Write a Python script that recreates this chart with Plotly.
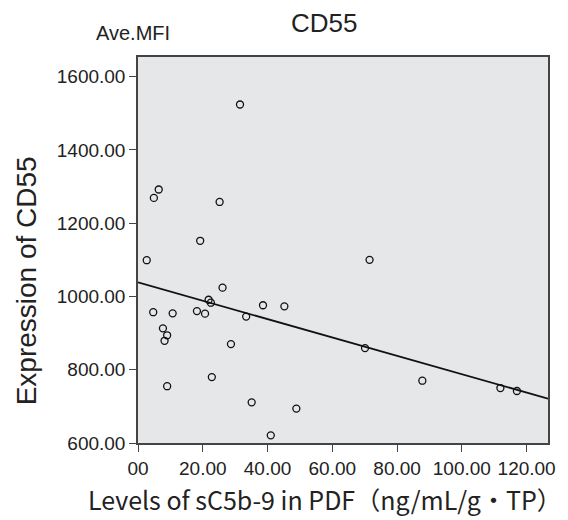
import numpy as np
import plotly.graph_objects as go

# Data
sc5b9 = [31.5, 6.4, 4.9, 25.2, 19.2, 2.7, 26.1, 21.8, 22.5, 38.6,
         45.2, 4.7, 10.7, 18.2, 20.7, 33.4, 7.7, 9.0, 8.2, 28.7,
         22.8, 9.0, 35.1, 48.9, 41.0, 71.5, 70.1, 87.8, 111.9, 117.0]
cd55 = [1524, 1292, 1269, 1258, 1152, 1099, 1024, 991, 983, 976,
        973, 957, 954, 960, 953, 945, 913, 894, 879, 870,
        780, 755, 711, 694, 621, 1100, 859, 770, 750, 742]

x_tickvals = [0, 20, 40, 60, 80, 100, 120]
x_ticktext = ["00", "20.00", "40.00", "60.00", "80.00", "100.00", "120.00"]
y_tickvals = [600, 800, 1000, 1200, 1400, 1600]
y_ticktext = ["600.00", "800.00", "1000.00", "1200.00", "1400.00", "1600.00"]

x_range = [0, 126.6]
y_range = [600, 1653.7]

# Linear fit
slope, intercept = np.polyfit(sc5b9, cd55, 1)
fit_x = np.array(x_range)
fit_y = intercept + slope * fit_x

fig = go.Figure()
fig.add_trace(go.Scatter(
    x=fit_x, y=fit_y, mode="lines",
    line=dict(color="#111111", width=1.8), hoverinfo="skip", cliponaxis=True))
fig.add_trace(go.Scatter(
    x=sc5b9, y=cd55, mode="markers",
    marker=dict(symbol="circle-open", size=7, color="#111111",
                line=dict(width=1.3, color="#111111"))))

axis_common = dict(
    showgrid=False, zeroline=False, showline=True, linecolor="#444444",
    linewidth=1.5, mirror=True, ticks="outside", ticklen=7, tickwidth=1.3,
    tickcolor="#444444",
    tickfont=dict(family="Liberation Sans, Arial, sans-serif", size=19, color="#222222"),
)

fig.update_layout(
    width=568, height=520,
    margin=dict(l=138, r=18, t=57, b=77),
    paper_bgcolor="white", plot_bgcolor="#e6e7e9",
    showlegend=False,
    xaxis=dict(range=x_range, tickvals=x_tickvals, ticktext=x_ticktext,
               tickangle=0, **axis_common),
    yaxis=dict(range=y_range, tickvals=y_tickvals, ticktext=y_ticktext,
               **axis_common),
    annotations=[
        dict(text="CD55", xref="paper", yref="paper", x=0.454, y=1.088,
             xanchor="center", yanchor="middle", showarrow=False,
             font=dict(family="Liberation Sans, Arial, sans-serif", size=26, color="#222222")),
        dict(text="Ave.MFI", xref="paper", yref="paper", x=-0.1068, y=1.062,
             xanchor="left", yanchor="middle", showarrow=False,
             font=dict(family="Liberation Sans, Arial, sans-serif", size=20, color="#222222")),
        dict(text="Expression of CD55", xref="paper", yref="paper", x=-0.272, y=0.42,
             xanchor="center", yanchor="middle", textangle=-90, showarrow=False,
             font=dict(family="Liberation Sans, Arial, sans-serif", size=28, color="#222222")),
        dict(text="Levels of sC5b-9 in PDF（ng/mL/g・TP）", xref="paper", yref="paper",
             x=0.456, y=-0.146, xanchor="center", yanchor="middle", showarrow=False,
             font=dict(family="Noto Sans CJK JP, sans-serif", size=25, color="#222222")),
    ],
)

fig.write_html("out.html",
               config={"displayModeBar": False},
               post_script="document.body.style.margin='0';document.body.style.overflow='hidden';")
